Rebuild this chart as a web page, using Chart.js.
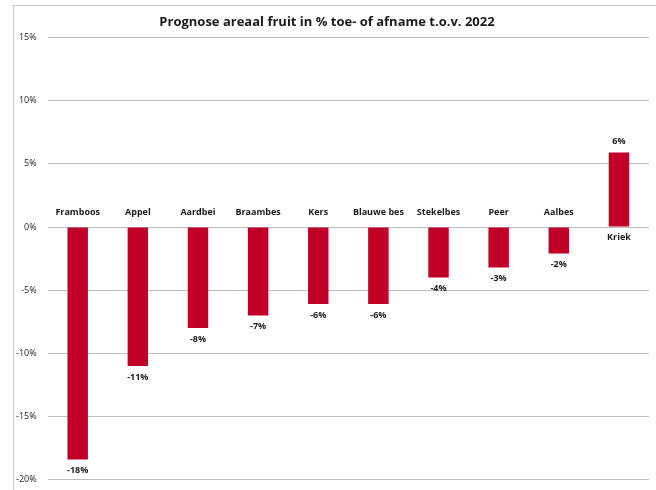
<!DOCTYPE html>
<html lang="nl">
<head>
<meta charset="utf-8">
<title>Prognose areaal fruit</title>
<script src="https://cdn.jsdelivr.net/npm/chart.js@4.4.0/dist/chart.umd.min.js"></script>
<style>
  html, body { margin: 0; padding: 0; background: #fff; }
  .wrap { position: relative; width: 656px; height: 490px; overflow: hidden; }
  .frame { position: absolute; left: 13px; top: 5px; width: 700px; height: 600px;
           border-left: 1px solid #c9c9c9; border-top: 1px solid #c9c9c9; }
  canvas { position: absolute; left: 0; top: 0; }
</style>
</head>
<body>
<div class="wrap">
  <div class="frame"></div>
  <canvas id="myChart" width="656" height="496"></canvas>
</div>

<script>
  const fruits = ['Framboos', 'Appel', 'Aardbei', 'Braambes', 'Kers', 'Blauwe bes', 'Stekelbes', 'Peer', 'Aalbes', 'Kriek'];
  const change = [-18.4, -11.0, -8.0, -7.0, -6.1, -6.1, -4.0, -3.2, -2.1, 5.9];

  const labelFont = 'bold 9px "Open Sans"';

  // namen en waarden bij de staven
  const barLabels = {
    id: 'barLabels',
    afterDatasetsDraw(chart) {
      const ctx = chart.ctx;
      const meta = chart.getDatasetMeta(0);
      ctx.save();
      ctx.font = labelFont;
      ctx.fillStyle = '#1a1a1a';
      ctx.textAlign = 'center';
      ctx.textBaseline = 'middle';
      meta.data.forEach((bar, i) => {
        const v = change[i];
        const txt = Math.round(v) + '%';
        if (v < 0) {
          ctx.fillText(fruits[i], bar.x, bar.base - 15);
          ctx.fillText(txt, bar.x, bar.y + 11);
        } else {
          ctx.fillText(fruits[i], bar.x, bar.base + 11);
          ctx.fillText(txt, bar.x, bar.y - 11);
        }
      });
      ctx.restore();
    }
  };

  const ctx = document.getElementById('myChart').getContext('2d');
  Chart.defaults.font.family = '"Open Sans"';
  Chart.defaults.color = '#1a1a1a';
  const myChart = new Chart(ctx, {
    type: 'bar',
    data: {
      labels: fruits,
      datasets: [{
        data: change,
        backgroundColor: '#c00026',
        barPercentage: 0.34,
        categoryPercentage: 1
      }]
    },
    options: {
      responsive: false,
      animation: false,
      layout: { padding: { left: 5, right: 7, top: 12, bottom: 1 } },
      plugins: {
        legend: { display: false },
        tooltip: { enabled: false },
        title: {
          display: true,
          text: 'Prognose areaal fruit in % toe- of afname t.o.v. 2022',
          font: { size: 13, weight: 'bold' },
          color: '#1a1a1a',
          padding: { top: 2, bottom: 8 }
        }
      },
      scales: {
        x: { display: false },
        y: {
          min: -20,
          max: 15,
          ticks: {
            stepSize: 5,
            padding: 11,
            font: { size: 9 },
            callback: v => v + '%'
          },
          grid: { color: '#bdbdbd', lineWidth: 1, drawTicks: false },
          border: { display: false }
        }
      }
    },
    plugins: [barLabels]
  });
</script>
</body>
</html>
